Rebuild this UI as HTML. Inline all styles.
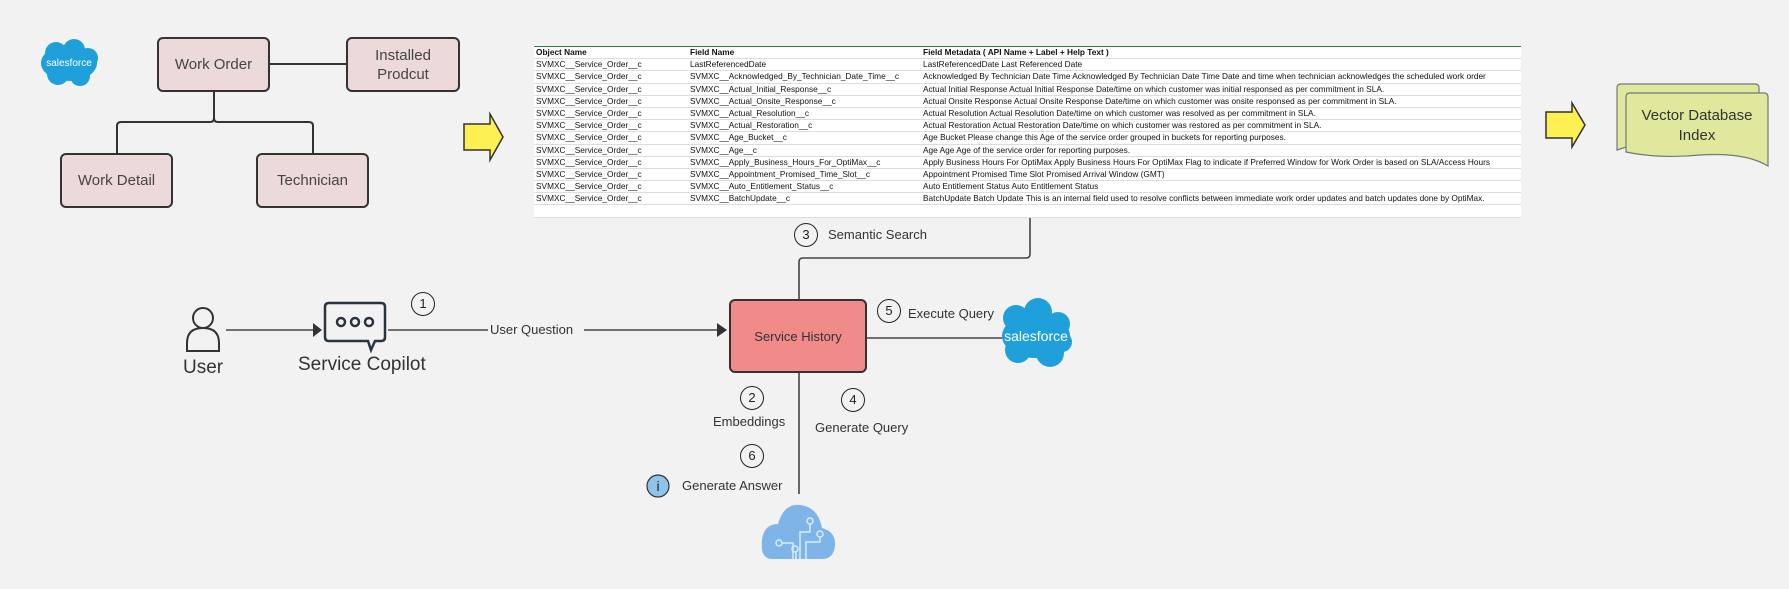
<!DOCTYPE html>
<html><head><meta charset="utf-8"><style>
body{margin:0;width:1789px;height:589px;background:#f2f2f2;position:relative;overflow:hidden;font-family:"Liberation Sans",sans-serif;}
.a{position:absolute}
.box{position:absolute;background:#ecdada;border:2px solid #333;border-radius:6px;box-sizing:border-box;display:flex;align-items:center;justify-content:center;text-align:center;font-size:15px;color:#444;line-height:19px}
table{position:absolute;left:534px;top:46px;width:987px;border-collapse:collapse;background:#fff;font-size:8.3px;color:#111;table-layout:fixed}
td{height:11.2px;padding:0 0 0 2px;border-bottom:1px solid #ddd;white-space:nowrap;overflow:hidden;line-height:11px}
tr:first-child td{font-weight:bold;border-top:1px solid #2f7d4f}
.lbl{position:absolute;font-size:13px;color:#333;white-space:nowrap;line-height:16px}
.c{position:absolute;width:24px;height:24px;border:1.5px solid #222;border-radius:50%;box-sizing:border-box;font-size:13px;text-align:center;line-height:21px;color:#222;background:#f2f2f2}
</style></head><body>
<svg class="a" style="left:0;top:0" width="1789" height="589">
<g fill="#1fa0db">
<ellipse cx="69" cy="63" rx="28" ry="18"/><circle cx="56" cy="53" r="11"/><circle cx="74" cy="50" r="11"/><circle cx="88" cy="58" r="10"/><circle cx="80" cy="76" r="10"/><circle cx="58" cy="74" r="11"/>
<ellipse cx="1036" cy="336" rx="34" ry="22"/><circle cx="1016" cy="318" r="13"/><circle cx="1038" cy="312" r="14"/><circle cx="1058" cy="324" r="12"/><circle cx="1050" cy="353" r="14"/><circle cx="1018" cy="350" r="13"/><circle cx="1062" cy="342" r="10"/>
</g>
<text x="69" y="66" font-size="10" fill="#fff" text-anchor="middle">salesforce</text>
<text x="1036" y="341" font-size="14" fill="#fff" text-anchor="middle">salesforce</text>
<g stroke="#333" stroke-width="2" fill="none">
<line x1="270" y1="64" x2="346" y2="64"/>
<path d="M214 92 V118 Q214 122 210 122 H121 Q117 122 117 126 V153"/>
<path d="M214 118 Q214 122 218 122 H309 Q313 122 313 126 V153"/>
</g>
<path d="M464 124 H490 V114 L503 137 L490 160 V150 H464 Z" fill="#fdf052" stroke="#333" stroke-width="1.5"/>
<path d="M1546 112 H1572 V103 L1585 125 L1572 147 V138 H1546 Z" fill="#fdf052" stroke="#333" stroke-width="1.5"/>
<path d="M1617 88 Q1617 84 1621 84 H1755 Q1759 84 1759 88 V150 Q1690 125 1617 150 Z" fill="#dfe89c" stroke="#777" stroke-width="1.2"/>
<path d="M1626 97 Q1626 93 1630 93 H1764 Q1768 93 1768 97 V166 Q1745 152 1700 155 Q1660 159 1626 152 Z" fill="#dfe89c" stroke="#777" stroke-width="1.2"/>
<text x="1697" y="120" font-size="15" fill="#333" text-anchor="middle">Vector Database</text>
<text x="1697" y="140" font-size="15" fill="#333" text-anchor="middle">Index</text>
<g stroke="#444" stroke-width="1.6" fill="none">
<line x1="226" y1="330" x2="316" y2="330"/>
<line x1="388" y1="330" x2="488" y2="330"/>
<line x1="584" y1="330" x2="722" y2="330"/>
<path d="M799 299 V262 Q799 258 803 258 H1026 Q1030 258 1030 254 V212"/>
<line x1="867" y1="338" x2="1002" y2="338"/>
<line x1="799" y1="373" x2="799" y2="494"/>
</g>
<path d="M313 323 L322 330 L313 337 Z" fill="#333"/>
<path d="M717 323 L727 330 L717 337 Z" fill="#333"/>
<g stroke="#333" stroke-width="2" fill="none">
<circle cx="203" cy="318" r="10"/>
<path d="M187 351 V343 Q187 328 203 328 Q219 328 219 343 V351 Z"/>
</g>
<g stroke="#2a3340" stroke-width="2.5" fill="none">
<path d="M329 303 H381 Q385 303 385 307 V337 Q385 341 381 341 H375 L371 350 L368 341 H329 Q325 341 325 337 V307 Q325 303 329 303 Z"/>
<circle cx="341" cy="322" r="4"/><circle cx="355" cy="322" r="4"/><circle cx="369" cy="322" r="4"/>
</g>
<circle cx="658" cy="486" r="11" fill="#8ec3ea" stroke="#333" stroke-width="1.2"/>
<text x="658" y="491" font-size="14" text-anchor="middle" fill="#222">i</text>
<path d="M772 559 Q760 559 762 540 Q764 524 778 524 Q784 503 800 505 Q818 507 822 528 Q836 532 835 545 Q834 559 822 559 Z" fill="#7fb4e8"/>
<g stroke="#d6ecff" stroke-width="1.5" fill="none">
<path d="M800 559 V532 H810 V524"/><circle cx="810" cy="521" r="3"/>
<path d="M806 559 V542 H820 V537"/><circle cx="820" cy="534" r="3"/>
<path d="M793 559 V543 H782"/><circle cx="779" cy="543" r="3"/>
<path d="M796 559 V552"/><circle cx="795" cy="549" r="3"/>
</g>
</svg>
<div class="box" style="left:157px;top:37px;width:113px;height:55px">Work Order</div>
<div class="box" style="left:346px;top:37px;width:114px;height:55px">Installed<br>Prodcut</div>
<div class="box" style="left:60px;top:153px;width:113px;height:55px">Work Detail</div>
<div class="box" style="left:256px;top:153px;width:113px;height:55px">Technician</div>
<table>
<colgroup><col style="width:154px"><col style="width:233px"><col></colgroup>
<tr><td>Object Name</td><td>Field Name</td><td>Field Metadata ( API Name + Label + Help Text )</td></tr>
<tr><td>SVMXC__Service_Order__c</td><td>LastReferencedDate</td><td>LastReferencedDate Last Referenced Date</td></tr>
<tr><td>SVMXC__Service_Order__c</td><td>SVMXC__Acknowledged_By_Technician_Date_Time__c</td><td>Acknowledged By Technician Date Time Acknowledged By Technician Date Time Date and time when technician acknowledges the scheduled work order</td></tr>
<tr><td>SVMXC__Service_Order__c</td><td>SVMXC__Actual_Initial_Response__c</td><td>Actual Initial Response Actual Initial Response Date/time on which customer was initial responsed as per commitment in SLA.</td></tr>
<tr><td>SVMXC__Service_Order__c</td><td>SVMXC__Actual_Onsite_Response__c</td><td>Actual Onsite Response Actual Onsite Response Date/time on which customer was onsite responsed as per commitment in SLA.</td></tr>
<tr><td>SVMXC__Service_Order__c</td><td>SVMXC__Actual_Resolution__c</td><td>Actual Resolution Actual Resolution Date/time on which customer was resolved as per commitment in SLA.</td></tr>
<tr><td>SVMXC__Service_Order__c</td><td>SVMXC__Actual_Restoration__c</td><td>Actual Restoration Actual Restoration Date/time on which customer was restored as per commitment in SLA.</td></tr>
<tr><td>SVMXC__Service_Order__c</td><td>SVMXC__Age_Bucket__c</td><td>Age Bucket Please change this Age of the service order grouped in buckets for reporting purposes.</td></tr>
<tr><td>SVMXC__Service_Order__c</td><td>SVMXC__Age__c</td><td>Age Age Age of the service order for reporting purposes.</td></tr>
<tr><td>SVMXC__Service_Order__c</td><td>SVMXC__Apply_Business_Hours_For_OptiMax__c</td><td>Apply Business Hours For OptiMax Apply Business Hours For OptiMax Flag to indicate if Preferred Window for Work Order is based on SLA/Access Hours</td></tr>
<tr><td>SVMXC__Service_Order__c</td><td>SVMXC__Appointment_Promised_Time_Slot__c</td><td>Appointment Promised Time Slot Promised Arrival Window (GMT)</td></tr>
<tr><td>SVMXC__Service_Order__c</td><td>SVMXC__Auto_Entitlement_Status__c</td><td>Auto Entitlement Status Auto Entitlement Status</td></tr>
<tr><td>SVMXC__Service_Order__c</td><td>SVMXC__BatchUpdate__c</td><td>BatchUpdate Batch Update This is an internal field used to resolve conflicts between immediate work order updates and batch updates done by OptiMax.</td></tr>
<tr><td style="height:5px">&nbsp;</td><td></td><td></td></tr>
</table>
<div class="box" style="left:729px;top:299px;width:138px;height:74px;background:#f08b89;border-color:#333;font-size:13px;color:#333">Service History</div>
<div class="lbl" style="left:183px;top:357px;font-size:19px;line-height:22px">User</div>
<div class="lbl" style="left:298px;top:354px;font-size:19px;line-height:22px">Service Copilot</div>
<div class="lbl" style="left:490px;top:322px">User Question</div>
<div class="c" style="left:411px;top:292px">1</div>
<div class="c" style="left:794px;top:223px">3</div>
<div class="lbl" style="left:828px;top:227px">Semantic Search</div>
<div class="c" style="left:877px;top:299px">5</div>
<div class="lbl" style="left:908px;top:306px">Execute Query</div>
<div class="c" style="left:740px;top:386px">2</div>
<div class="lbl" style="left:713px;top:414px">Embeddings</div>
<div class="c" style="left:841px;top:388px">4</div>
<div class="lbl" style="left:815px;top:420px">Generate Query</div>
<div class="c" style="left:740px;top:444px">6</div>
<div class="lbl" style="left:682px;top:478px">Generate Answer</div>
</body></html>
